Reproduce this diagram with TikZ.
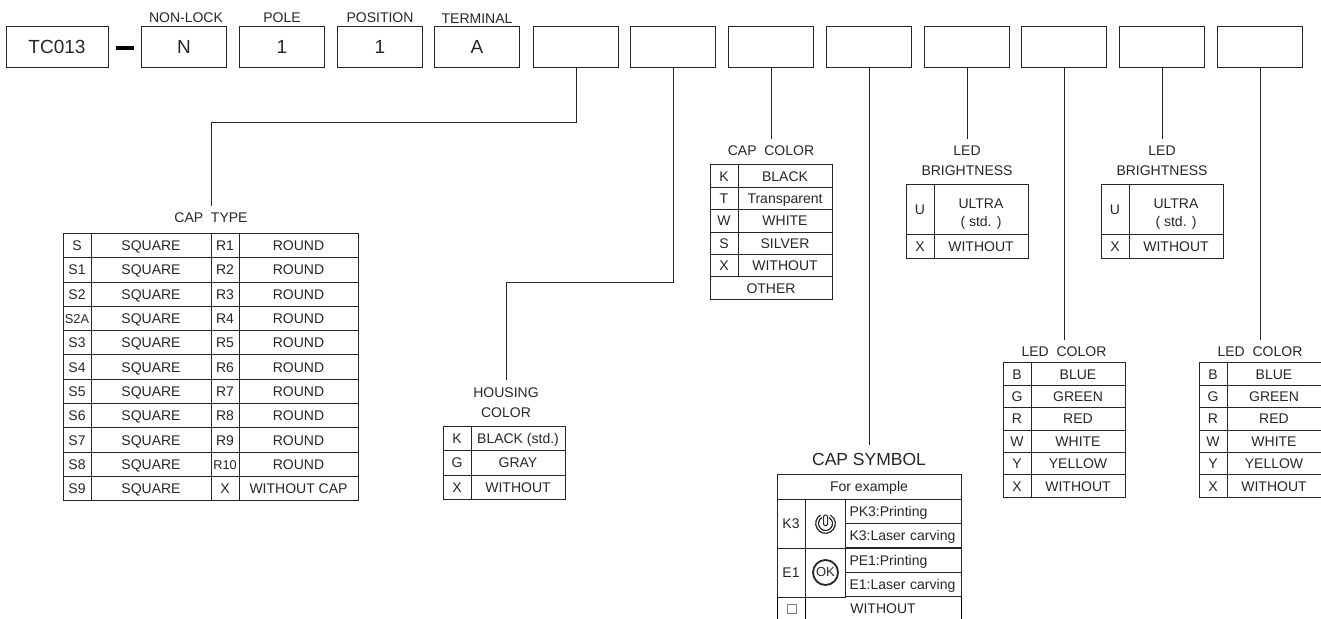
\documentclass[tikz,border=0pt]{standalone}
\usepackage{fontspec}
\setmainfont{Liberation Sans}
\usetikzlibrary{positioning}
\definecolor{inkgray}{HTML}{262626}
\tikzset{
    cell/.style = {draw = inkgray, text = inkgray, inner sep = 0pt, outer sep = 0pt, anchor = north west, font = \fontsize{7}{8}\selectfont, text height = 5pt, text depth = 0pt},
    typekey/.style = {cell, minimum width = 14pt, minimum height = 12.15pt},
    typeval/.style = {cell, minimum width = 60pt, minimum height = 12.15pt},
    listkey/.style = {cell, minimum width = 14pt, minimum height = 11.2pt},
    listval/.style = {cell, minimum width = 47pt, minimum height = 11.2pt},
    ultraval/.style = {listval, minimum height = 24.75pt, text height = 19pt, text depth = 2pt, align = center, font = \fontsize{7}{9}\selectfont},
    symtext/.style = {cell, minimum height = 12.2pt, text width = 53.75pt, inner xsep = 2pt, align = left},
    partbox/.style = {draw = inkgray, text = inkgray, inner sep = 0pt, minimum width = 42.5pt, minimum height = 20.5pt, font = \fontsize{9.5}{11}\selectfont},
    partname/.style = {text = inkgray, inner sep = 0pt, font = \fontsize{7}{8}\selectfont},
    heading/.style = {text = inkgray, inner sep = 3.5pt, align = center, font = \fontsize{7}{10}\selectfont},
    link/.style = {draw = inkgray, line width = 0.5pt}
}
\begin{document}
\begin{tikzpicture}[x = 0.5pt, y = -0.5pt, line width = 0.5pt]
    \useasboundingbox (0, 0) rectangle (1321, 619);
    % code boxes
    \node[partbox, minimum width = 51pt] (code) at (57, 47) {TC013};
    \node[fill = black, inner sep = 0pt, minimum width = 9pt, minimum height = 2pt] (minus) at (125, 48) {};
    \node[partbox] (lock) at (184, 47) {N};
    \node[partbox] (pole) at (282, 47) {1};
    \node[partbox] (position) at (380, 47) {1};
    \node[partbox] (terminal) at (477, 47) {A};
    \node[partbox] (capbox) at (576, 47) {};
    \node[partbox] (housingbox) at (673, 47) {};
    \node[partbox] (colorbox) at (771, 47) {};
    \node[partbox] (symbolbox) at (869, 47) {};
    \node[partbox] (brightbox) at (967, 47) {};
    \node[partbox] (ledbox) at (1064, 47) {};
    \node[partbox] (brightboxb) at (1162, 47) {};
    \node[partbox] (ledboxb) at (1260, 47) {};
    \node[partname, above = 1.2pt, xshift = 1pt] (locklabel) at (lock.north) {NON-LOCK};
    \node[partname, above = 1.2pt] (polelabel) at (pole.north) {POLE};
    \node[partname, above = 1.2pt] (positionlabel) at (position.north) {POSITION};
    \node[partname, above = 1.2pt] (terminallabel) at (terminal.north) {TERMINAL};

    % headings
    \node[heading] (captitle) at (211, 218) {CAP\ \ TYPE};
    \node[heading] (housingtitle) at (506, 402.5) {HOUSING\\COLOR};
    \node[heading] (colortitle) at (771, 151) {CAP\ \ COLOR};
    \node[heading] (brighttitle) at (967, 161) {LED\\BRIGHTNESS};
    \node[heading] (brighttitleb) at (1162, 161) {LED\\BRIGHTNESS};
    \node[heading] (ledtitle) at (1064, 352) {LED\ \ COLOR};
    \node[heading] (ledtitleb) at (1260, 352) {LED\ \ COLOR};
    \node[heading, font = \fontsize{8.75}{10}\selectfont] (symboltitle) at (869, 459) {CAP SYMBOL};

    % connectors
    \coordinate (capbend) at (576, 123);
    \coordinate (housingbend) at (673, 283);
    \draw[link] (capbox.south) -- (capbend) -| (captitle.north);
    \draw[link] (housingbox.south) -- (housingbend) -| (housingtitle.north);
    \draw[link] (colorbox.south) -- (colortitle.north);
    \draw[link] (symbolbox.south) -- (symboltitle.north);
    \draw[link] (brightbox.south) -- (brighttitle.north);
    \draw[link] (ledbox.south) -- (ledtitle.north);
    \draw[link] (brightboxb.south) -- (brighttitleb.north);
    \draw[link] (ledboxb.south) -- (ledtitleb.north);

    % cap type
    \node[typekey] (s) at (63, 233.5) {S};
    \node[typeval] (sa) at (91, 233.5) {SQUARE};
    \node[typekey] (ra) at (211, 233.5) {R1};
    \node[typeval, minimum width = 59.5pt] (rb) at (239, 233.5) {ROUND};
    \node[typekey] (sone) at (63, 257.8) {S1};
    \node[typeval] (sonea) at (91, 257.8) {SQUARE};
    \node[typekey] (rtwo) at (211, 257.8) {R2};
    \node[typeval, minimum width = 59.5pt] (rtwob) at (239, 257.8) {ROUND};
    \node[typekey] (stwo) at (63, 282.1) {S2};
    \node[typeval] (stwoa) at (91, 282.1) {SQUARE};
    \node[typekey] (rthree) at (211, 282.1) {R3};
    \node[typeval, minimum width = 59.5pt] (rthreeb) at (239, 282.1) {ROUND};
    \node[typekey, font = \fontsize{6.4}{7}\selectfont] (stwoA) at (63, 306.4) {S2A};
    \node[typeval] (stwoAa) at (91, 306.4) {SQUARE};
    \node[typekey] (rfour) at (211, 306.4) {R4};
    \node[typeval, minimum width = 59.5pt] (rfourb) at (239, 306.4) {ROUND};
    \node[typekey] (sthree) at (63, 330.7) {S3};
    \node[typeval] (sthreea) at (91, 330.7) {SQUARE};
    \node[typekey] (rfive) at (211, 330.7) {R5};
    \node[typeval, minimum width = 59.5pt] (rfiveb) at (239, 330.7) {ROUND};
    \node[typekey] (sfour) at (63, 355) {S4};
    \node[typeval] (sfoura) at (91, 355) {SQUARE};
    \node[typekey] (rsix) at (211, 355) {R6};
    \node[typeval, minimum width = 59.5pt] (rsixb) at (239, 355) {ROUND};
    \node[typekey] (sfive) at (63, 379.3) {S5};
    \node[typeval] (sfivea) at (91, 379.3) {SQUARE};
    \node[typekey] (rseven) at (211, 379.3) {R7};
    \node[typeval, minimum width = 59.5pt] (rsevenb) at (239, 379.3) {ROUND};
    \node[typekey] (ssix) at (63, 403.6) {S6};
    \node[typeval] (ssixa) at (91, 403.6) {SQUARE};
    \node[typekey] (reight) at (211, 403.6) {R8};
    \node[typeval, minimum width = 59.5pt] (reightb) at (239, 403.6) {ROUND};
    \node[typekey] (sseven) at (63, 427.9) {S7};
    \node[typeval] (ssevena) at (91, 427.9) {SQUARE};
    \node[typekey] (rnine) at (211, 427.9) {R9};
    \node[typeval, minimum width = 59.5pt] (rnineb) at (239, 427.9) {ROUND};
    \node[typekey] (seight) at (63, 452.2) {S8};
    \node[typeval] (seighta) at (91, 452.2) {SQUARE};
    \node[typekey, font = \fontsize{6.4}{7}\selectfont] (rten) at (211, 452.2) {R10};
    \node[typeval, minimum width = 59.5pt] (rtenb) at (239, 452.2) {ROUND};
    \node[typekey] (snine) at (63, 476.5) {S9};
    \node[typeval] (sninea) at (91, 476.5) {SQUARE};
    \node[typekey] (xcap) at (211, 476.5) {X};
    \node[typeval, minimum width = 59.5pt] (xcapb) at (239, 476.5) {WITHOUT CAP};

    % housing color
    \node[typekey] (hk) at (443, 426.5) {K};
    \node[typeval, minimum width = 47pt] (hka) at (471, 426.5) {BLACK (std.)};
    \node[typekey] (hg) at (443, 450.8) {G};
    \node[typeval, minimum width = 47pt] (hga) at (471, 450.8) {GRAY};
    \node[typekey] (hx) at (443, 475.1) {X};
    \node[typeval, minimum width = 47pt] (hxa) at (471, 475.1) {WITHOUT};

    % cap color
    \node[listkey] (ck) at (710, 165) {K};
    \node[listval] (cka) at (738, 165) {BLACK};
    \node[listkey] (ct) at (710, 187.4) {T};
    \node[listval] (cta) at (738, 187.4) {Transparent};
    \node[listkey] (cw) at (710, 209.8) {W};
    \node[listval] (cwa) at (738, 209.8) {WHITE};
    \node[listkey] (cs) at (710, 232.2) {S};
    \node[listval] (csa) at (738, 232.2) {SILVER};
    \node[listkey] (cx) at (710, 254.6) {X};
    \node[listval] (cxa) at (738, 254.6) {WITHOUT};
    \node[listval, minimum width = 61pt] (cother) at (710, 277) {OTHER};

    % led brightness
    \node[listkey, minimum height = 24.75pt] (bu) at (906, 185) {U};
    \node[ultraval] (bua) at (934, 185) {ULTRA\\( std. )};
    \node[listkey, minimum height = 12pt] (bx) at (906, 234.5) {X};
    \node[listval, minimum height = 12pt] (bxa) at (934, 234.5) {WITHOUT};
    \node[listkey, minimum height = 24.75pt] (cu) at (1101, 185) {U};
    \node[ultraval] (cua) at (1129, 185) {ULTRA\\( std. )};
    \node[listkey, minimum height = 12pt] (dx) at (1101, 234.5) {X};
    \node[listval, minimum height = 12pt] (dxa) at (1129, 234.5) {WITHOUT};

    % led color
    \node[listkey] (lb) at (1003, 363) {B};
    \node[listval] (lba) at (1031, 363) {BLUE};
    \node[listkey] (lg) at (1003, 385.4) {G};
    \node[listval] (lga) at (1031, 385.4) {GREEN};
    \node[listkey] (lr) at (1003, 407.8) {R};
    \node[listval] (lra) at (1031, 407.8) {RED};
    \node[listkey] (lw) at (1003, 430.2) {W};
    \node[listval] (lwa) at (1031, 430.2) {WHITE};
    \node[listkey] (ly) at (1003, 452.6) {Y};
    \node[listval] (lya) at (1031, 452.6) {YELLOW};
    \node[listkey] (lx) at (1003, 475) {X};
    \node[listval] (lxa) at (1031, 475) {WITHOUT};
    \node[listkey] (mb) at (1199, 363) {B};
    \node[listval] (mba) at (1227, 363) {BLUE};
    \node[listkey] (mg) at (1199, 385.4) {G};
    \node[listval] (mga) at (1227, 385.4) {GREEN};
    \node[listkey] (mr) at (1199, 407.8) {R};
    \node[listval] (mra) at (1227, 407.8) {RED};
    \node[listkey] (mw) at (1199, 430.2) {W};
    \node[listval] (mwa) at (1227, 430.2) {WHITE};
    \node[listkey] (my) at (1199, 452.6) {Y};
    \node[listval] (mya) at (1227, 452.6) {YELLOW};
    \node[listkey] (mx) at (1199, 475) {X};
    \node[listval] (mxa) at (1227, 475) {WITHOUT};

    % cap symbol
    \node[listval, minimum width = 92pt, minimum height = 12pt] (example) at (777, 475) {For example};
    \node[listkey, minimum height = 24.5pt] (kthree) at (777, 499) {K3};
    \node[listkey, minimum width = 20pt, minimum height = 24.5pt] (kicon) at (805.5, 499) {};
    \node[symtext] (kprint) at (845.5, 499) {PK3:Printing};
    \node[symtext] (klaser) at (845.5, 523.5) {K3:Laser carving};
    \node[listkey, minimum height = 24.5pt] (eone) at (777, 548) {E1};
    \node[listkey, minimum width = 20pt, minimum height = 24.5pt] (eicon) at (805.5, 548) {};
    \node[symtext] (eprint) at (845.5, 548) {PE1:Printing};
    \node[symtext] (elaser) at (845.5, 572.5) {E1:Laser carving};
    \node[draw = inkgray, circle, line width = 0.9pt, inner sep = 0pt, minimum size = 12.5pt, text = inkgray, font = \fontsize{6.5}{7}\selectfont] (okmark) at (eicon.center) {OK};
    \draw[inkgray, line width = 0.6pt] (kicon.center) ++(120:4.9pt) arc[start angle = 120, end angle = 420, radius = 4.9pt];
    \draw[inkgray, line width = 0.6pt] (kicon.center) ++(120:3.5pt) arc[start angle = 120, end angle = 420, radius = 3.5pt];
    \draw[inkgray, line width = 0.5pt, fill = white, rounded corners = 0.6pt] ([xshift = -1pt, yshift = 4.2pt] kicon.center) rectangle ([xshift = 1pt, yshift = -1pt] kicon.center);
    \node[draw = gray, inner sep = 0pt, minimum size = 4.5pt] (nosymbol) at (791.5, 609) {};
    \node[cell, draw = none, anchor = center] (nowithout) at (883, 608) {WITHOUT};
    \draw (eone.south west) -- ++(0, 23);
    \draw (eone.south east) -- ++(0, 23);
    \draw (elaser.south east) -- ++(0, 23);
\end{tikzpicture}
\end{document}
